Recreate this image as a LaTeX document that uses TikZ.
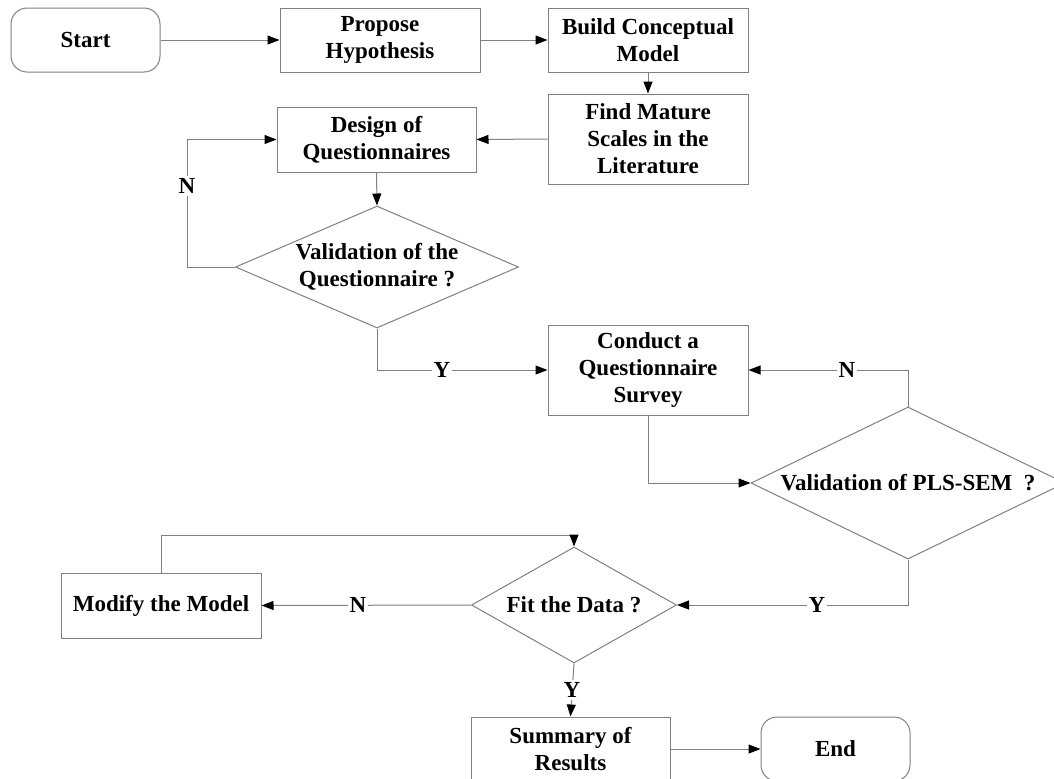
\documentclass[tikz,border=0pt]{standalone}
\usepackage{fontspec}
\setmainfont{Liberation Serif}
\usetikzlibrary{arrows.meta,shapes.geometric}
\definecolor{lnc}{RGB}{128,128,128}
\tikzset{
  base/.style={draw=lnc, line width=0.5pt, align=center, inner sep=2pt,
    font=\bfseries\fontsize{11.5}{13.5}\selectfont},
  box/.style={base, rectangle, minimum width=100pt, minimum height=32pt},
  term/.style={box, rounded corners=8pt, minimum width=74.5pt},
  dia/.style={draw=lnc, line width=0.5pt, diamond, inner sep=0pt},
  dtext/.style={align=center, inner sep=0pt, font=\bfseries\fontsize{11.5}{13.5}\selectfont},
  arr/.style={draw=lnc, line width=0.5pt, -{Triangle[black, length=6pt, width=4.5pt]}},
  ln/.style={draw=lnc, line width=0.5pt},
  yn/.style={fill=white, inner sep=1pt, font=\bfseries\fontsize{11.5}{13.5}\selectfont}
}
\begin{document}
\begin{tikzpicture}[x=0.5pt, y=-0.5pt]
\useasboundingbox (0,0) rectangle (1054,778);
\clip (0,0) rectangle (1054,778);

\node[term] (start) at (85.5,40) {Start};
\node[box] (prop) at (380,40) {Propose\\Hypothesis};
\node[box] (build) at (648,40) {Build Conceptual\\Model};
\node[box, minimum height=45pt] (find) at (648,139) {Find Mature\\Scales in the\\Literature};
\node[box, minimum width=99.5pt, minimum height=32.5pt] (design) at (376.5,139.5) {Design of\\Questionnaires};

\node[dia, minimum width=141.5pt, minimum height=61pt] (v1) at (377,267) {};
\node[dtext] (v1t) at (v1.center) {Validation of the\\Questionnaire ?};

\node[box, minimum height=45pt] (cond) at (648,370) {Conduct a\\Questionnaire\\Survey};

\node[dia, minimum width=157pt, minimum height=76pt] (v2) at (908,483) {};
\node[dtext] (v2t) at (v2.center) {Validation of PLS-SEM\ \ ?};

\node[dia, minimum width=102.5pt, minimum height=58pt] (fit) at (574,605) {};
\node[dtext] (fitt) at (fit.center) {Fit the Data ?};

\node[box, minimum height=32.5pt] (modify) at (161,605.5) {Modify the Model};

\node[box, minimum width=99.5pt] (summ) at (570.5,749) {Summary of\\Results};
\node[term] (end) at (835.5,749) {End};

% connectors
\draw[arr] (start.east) -- (prop.west);
\draw[arr] (prop.east) -- (build.west);
\draw[arr] (build.south) -- (find.north);
\draw[arr] (find.west) -- (design.east);
\draw[arr] (design.south) -- (v1.north);

\coordinate (c1) at (187,267);
\draw[arr] (v1.west) -- (c1) |- (design.west);
\node[yn] (n1) at (187,186) {N};

\draw[arr] (v1.south) |- (cond.west);
\node[yn] (y1) at (442,370) {Y};

\draw[arr] (cond.south) |- (v2.west);

\draw[arr] (v2.north) |- (cond.east);
\node[yn] (n2) at (847,370) {N};

\draw[arr] (v2.south) |- (fit.east);
\node[yn] (y2) at (817,605) {Y};

\draw[arr] (fit.west) -- (modify.east);
\node[yn] (n3) at (358,605) {N};

\coordinate (c2) at (574,535);
\draw[arr] (modify.north) |- (c2) -- (fit.north);

\draw[arr] (fit.south) -- (summ.north);
\node[yn] (y3) at (572,690) {Y};

\draw[arr] (summ.east) -- (end.west);
\end{tikzpicture}
\end{document}
